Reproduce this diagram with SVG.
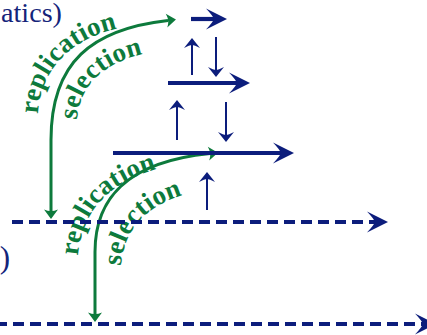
<svg xmlns="http://www.w3.org/2000/svg" width="427" height="335" viewBox="0 0 427 335">
  <style>
    .blue { stroke: #0c1d7c; fill: none; }
    .thick { stroke-width: 4.2; }
    .thin { stroke-width: 2; }
    .dash { stroke-dasharray: 11 6; }
    .green { stroke: #0d7a3c; stroke-width: 3; fill: none; }
    .lbl { font-family: "Liberation Serif", "Times New Roman", serif; font-weight: bold; font-size: 27px; fill: #0d7a3c; letter-spacing: 0.2px; }
    .paren { font-family: "Liberation Serif", "Times New Roman", serif; fill: #14247a; }
  </style>
  <defs>
    <!-- big barbed head: notch at 0, tip at +13 -->
    <marker id="headBig" markerUnits="userSpaceOnUse" orient="auto" refX="0" refY="0" markerWidth="40" markerHeight="40" overflow="visible">
      <path d="M 13 0 L -8 -10.5 Q -1 -3 0 0 Q -1 3 -8 10.5 Z" fill="#0c1d7c"/>
    </marker>
    <!-- thin barbed head: notch at 0, tip at +7 -->
    <marker id="headThin" markerUnits="userSpaceOnUse" orient="auto" refX="0" refY="0" markerWidth="30" markerHeight="30" overflow="visible">
      <path d="M 7 0 L -3 -8 Q 0 -2.5 0 0 Q 0 2.5 -3 8 Z" fill="#0c1d7c"/>
    </marker>
    <!-- green barbed head: notch at 0, tip at +8 -->
    <marker id="headGreen" markerUnits="userSpaceOnUse" orient="auto-start-reverse" refX="0" refY="0" markerWidth="30" markerHeight="30" overflow="visible">
      <path d="M 8 0 L -1.5 -7 Q 0.5 -2 0 0 Q 0.5 2 -1.5 7 Z" fill="#0d7a3c"/>
    </marker>
    <path id="rep1" d="M 38 114 C 40 70, 71 37, 124 27"/>
    <path id="sel1" d="M 77 120 C 79 88, 101 62, 148 53"/>
    <path id="rep2" d="M 78 256 C 82 211, 107 182, 164 167"/>
    <path id="sel2" d="M 121 266 C 124 228, 147 202, 198 191"/>
  </defs>

  <g id="text-top">
    <text class="paren" x="1" y="22" font-size="27" textLength="61" lengthAdjust="spacingAndGlyphs">atics)</text>
  </g>
  <g id="text-left">
    <text class="paren" x="10" y="268" font-size="31" text-anchor="end">)</text>
  </g>

  <!-- green transitions with their labels -->
  <g id="transition-upper">
    <path class="green" d="M 51 211 L 51 140 C 51 62, 92 29, 168 20.5" marker-start="url(#headGreen)" marker-end="url(#headGreen)"/>
    <text class="lbl"><textPath href="#rep1">replication</textPath></text>
    <text class="lbl"><textPath href="#sel1">selection</textPath></text>
  </g>
  <g id="transition-lower">
    <path class="green" d="M 95 314 L 95 252 C 95 200, 125 162, 210 153.5" marker-start="url(#headGreen)" marker-end="url(#headGreen)"/>
    <text class="lbl"><textPath href="#rep2">replication</textPath></text>
    <text class="lbl"><textPath href="#sel2">selection</textPath></text>
  </g>

  <g id="connectors">
    <!-- solid levels -->
    <path class="blue thick" d="M 191 19 H 214" marker-end="url(#headBig)"/>
    <path class="blue thick" d="M 168 83 H 237" marker-end="url(#headBig)"/>
    <path class="blue thick" d="M 113 153 H 281" marker-end="url(#headBig)"/>
    <!-- dashed levels -->
    <path class="blue thick dash" d="M 12 222 H 375" marker-end="url(#headBig)"/>
    <path class="blue thick dash" d="M -4 324 H 423" marker-end="url(#headBig)"/>
    <!-- vertical exchanges -->
    <path class="blue thin" d="M 192 75 V 45" marker-end="url(#headThin)"/>
    <path class="blue thin" d="M 216 37 V 70" marker-end="url(#headThin)"/>
    <path class="blue thin" d="M 177 140 V 107" marker-end="url(#headThin)"/>
    <path class="blue thin" d="M 226 102 V 135" marker-end="url(#headThin)"/>
    <path class="blue thin" d="M 207 210 V 179" marker-end="url(#headThin)"/>
  </g>
</svg>
